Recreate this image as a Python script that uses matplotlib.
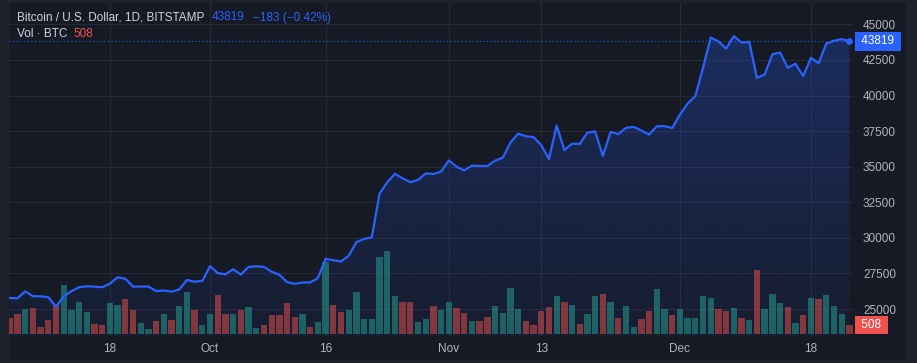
import numpy as np
import pandas as pd
import matplotlib
matplotlib.use("Agg")
import matplotlib.pyplot as plt
import matplotlib.dates as mdates
from matplotlib.patches import Polygon, Rectangle
from matplotlib.colors import to_rgb

plt.rcParams["font.family"] = ["Liberation Sans", "DejaVu Sans"]

## Data (BTC / USD daily, Bitstamp)
start_date = "2023-09-05"
end_date = "2023-12-23"

close_prices = [
    25780, 25750, 26240, 25900, 25890, 25830, 25160, 25900, 26250, 26530,
    26600, 26570, 26530, 26780, 27230, 27130, 26570, 26580, 26580, 26260,
    26300, 26220, 26370, 27040, 26920, 26980, 28020, 27520, 27440, 27800,
    27420, 27960, 28000, 27960, 27620, 27410, 26890, 26770, 26860, 26870,
    27170, 28520, 28430, 28340, 28740, 29700, 29930, 30030, 33100, 33900,
    34500, 34180, 33910, 34070, 34530, 34490, 34660, 35440, 35000, 34740,
    35080, 35050, 35050, 35420, 35630, 36700, 37320, 37140, 37080, 36510,
    35540, 37890, 36170, 36620, 36600, 37400, 37470, 35760, 37440, 37290,
    37730, 37800, 37540, 37260, 37840, 37850, 37720, 38660, 39430, 39960,
    41950, 44080, 43800, 43300, 44180, 43720, 43780, 41240, 41480, 42900,
    43020, 41950, 42240, 41360, 42650, 42270, 43650, 43850, 43970, 43819,
]

volumes = [
    900, 1130, 1410, 1470, 395, 790, 1640, 2760, 1350, 1800,
    1240, 565, 510, 1750, 1640, 1970, 1350, 620, 280, 735,
    1130, 790, 1580, 2370, 1350, 510, 1130, 2200, 1130, 1130,
    1350, 1520, 340, 510, 1070, 1070, 1750, 960, 1130, 395,
    680, 4060, 1640, 1240, 1350, 2370, 845, 845, 4340, 4680,
    2140, 1800, 1800, 680, 845, 1580, 1350, 1800, 1470, 1180,
    735, 735, 960, 1580, 1180, 2590, 1410, 735, 510, 1300,
    1520, 2140, 1800, 1640, 565, 1130, 2140, 2260, 1800, 900,
    1580, 395, 845, 1300, 2540, 1410, 1070, 1410, 900, 900,
    2140, 2030, 1410, 1300, 1470, 900, 790, 3610, 1410, 2260,
    1750, 1520, 620, 1070, 2030, 1970, 2200, 1580, 1130, 508,
]

# 1 = up day (green volume), 0 = down day (red volume)
volume_up = [
    0, 0, 1, 0, 0, 0, 0, 1, 1, 1,
    1, 0, 0, 1, 1, 0, 0, 1, 1, 0,
    1, 0, 1, 1, 0, 1, 1, 0, 0, 1,
    0, 1, 1, 0, 0, 0, 0, 0, 1, 0,
    1, 1, 0, 0, 1, 1, 1, 1, 1, 1,
    1, 0, 0, 1, 1, 0, 1, 1, 0, 0,
    1, 0, 0, 1, 1, 1, 1, 0, 0, 0,
    0, 1, 0, 1, 0, 1, 1, 0, 1, 0,
    1, 1, 0, 0, 1, 1, 0, 1, 1, 1,
    1, 1, 0, 0, 1, 0, 1, 0, 1, 1,
    1, 0, 1, 0, 1, 0, 1, 1, 1, 0,
]

price_ticks = [25000, 27500, 30000, 32500, 35000, 37500, 40000, 42500, 45000]
tick_dates = ["2023-09-18", "2023-10-01", "2023-10-16", "2023-11-01",
              "2023-11-13", "2023-12-01", "2023-12-18"]
tick_labels = ["18", "Oct", "16", "Nov", "13", "Dec", "18"]

last_price = 43819
last_change = "\u2212183 (\u22120.42%)"
last_volume = 508

## Colors
BG_OUTER = "#1e222d"
BG_PANE = "#161a25"
GRID = "#262a35"
TEXT = "#b2b5be"
TITLE = "#d1d4dc"
BLUE = "#2962ff"
UP = "#26a69a"
DOWN = "#ef5350"
FS = 8.5

W, H = 917, 363


def px_rect(x0, y0, x1, y1):
    # pixel box (from top-left) -> figure fraction rect
    return [x0 / W, 1 - y1 / H, (x1 - x0) / W, (y1 - y0) / H]


dates = pd.date_range(start_date, end_date, freq="D")
x = mdates.date2num(dates)
tick_x = mdates.date2num(pd.to_datetime(tick_dates))

fig = plt.figure(figsize=(W / 100, H / 100), dpi=100, facecolor=BG_OUTER)
fig.patches.append(Rectangle((9 / W, 1 - 360 / H), (906 - 9) / W, (360 - 3) / H,
                             transform=fig.transFigure, facecolor=BG_PANE,
                             edgecolor="none", zorder=-10))

plot_rect = px_rect(9, 3, 853, 336)
ax = fig.add_axes(plot_rect)
ax_vol = fig.add_axes(plot_rect, sharex=ax)
ax_line = fig.add_axes(plot_rect, sharex=ax, sharey=ax)

price_ylim = (23103, 46504)
vol_ylim = (-113, 18668)
xlim = (x[0] - 0.1, x[0] + 109.47)

# Gradient area under the price line
grad = np.zeros((256, 1, 4))
grad[..., :3] = to_rgb(BLUE)
grad[:, 0, 3] = np.linspace(0.26, 0.05, 256)
im = ax.imshow(grad, aspect="auto", origin="upper", zorder=1,
               extent=[x[0], x[-1], price_ylim[0], max(close_prices)])
verts = [(x[0], price_ylim[0])] + list(zip(x, close_prices)) + [(x[-1], price_ylim[0])]
area = Polygon(verts, closed=True, facecolor="none", edgecolor="none")
ax.add_patch(area)
im.set_clip_path(area)

ax.set_facecolor("none")
ax.set_axisbelow(True)
ax.grid(True, color=GRID, linewidth=0.75)

# Volume bars
bar_colors = [UP if up else DOWN for up in volume_up]
ax_vol.bar(x, volumes, width=0.82, color=bar_colors, alpha=0.5, linewidth=0)
ax_vol.set_ylim(*vol_ylim)
ax_vol.set_facecolor("none")

# Price line
ax_line.plot(x, close_prices, color=BLUE, linewidth=1.6, solid_joinstyle="round")
ax_line.plot(x[-1], close_prices[-1], "o", color=BLUE, markersize=3.8)
ax_line.axhline(last_price, color=BLUE, linewidth=0.75, linestyle=(0, (1, 2.5)))
ax_line.set_facecolor("none")

ax.set_xlim(*xlim)
ax.set_ylim(*price_ylim)

for a in (ax, ax_vol, ax_line):
    for s in a.spines.values():
        s.set_visible(False)
    a.tick_params(length=0, labelleft=False, labelbottom=False)

ax_vol.tick_params(labelright=False)
ax_vol.set_yticks([])

ax_line.set_xticks(tick_x)
ax_line.set_xticklabels(tick_labels)
ax_line.set_yticks(price_ticks)
ax_line.set_yticklabels([str(p) for p in price_ticks])
ax_line.yaxis.tick_right()
ax_line.tick_params(axis="y", length=0, pad=7.2, labelsize=FS, labelcolor=TEXT,
                    labelright=True, labelleft=False)
ax_line.tick_params(axis="x", length=0, pad=5.2, labelsize=FS, labelcolor=TEXT,
                    labelbottom=True)

# Last value tags on the price scale
ax_line.annotate(f" {last_price} ", xy=(1, last_price), xycoords=("axes fraction", "data"),
                 xytext=(3.7, 0), textcoords="offset points", ha="left", va="center",
                 fontsize=FS, color="white", annotation_clip=False,
                 bbox=dict(boxstyle="square,pad=0.28", facecolor=BLUE, edgecolor="none"))
ax_vol.annotate(f" {last_volume} ", xy=(1, last_volume), xycoords=("axes fraction", "data"),
                xytext=(3.7, 0), textcoords="offset points", ha="left", va="center",
                fontsize=FS, color="white", annotation_clip=False,
                bbox=dict(boxstyle="square,pad=0.28", facecolor=DOWN, edgecolor="none"))

# Header legend
fig.text(17 / W, 1 - 17.5 / H, "Bitcoin / U.S. Dollar, 1D, BITSTAMP",
         color=TITLE, fontsize=FS, va="center", ha="left")
fig.text(212 / W, 1 - 17.5 / H, str(last_price), color=BLUE, fontsize=FS, va="center")
fig.text(253 / W, 1 - 17.5 / H, last_change, color=BLUE, fontsize=FS, va="center")
fig.text(17 / W, 1 - 34 / H, "Vol \u00b7 BTC", color=TITLE, fontsize=FS, va="center")
fig.text(73 / W, 1 - 34 / H, str(last_volume), color=DOWN, fontsize=FS, va="center")

fig.savefig("out.png", dpi=100, facecolor=BG_OUTER)
